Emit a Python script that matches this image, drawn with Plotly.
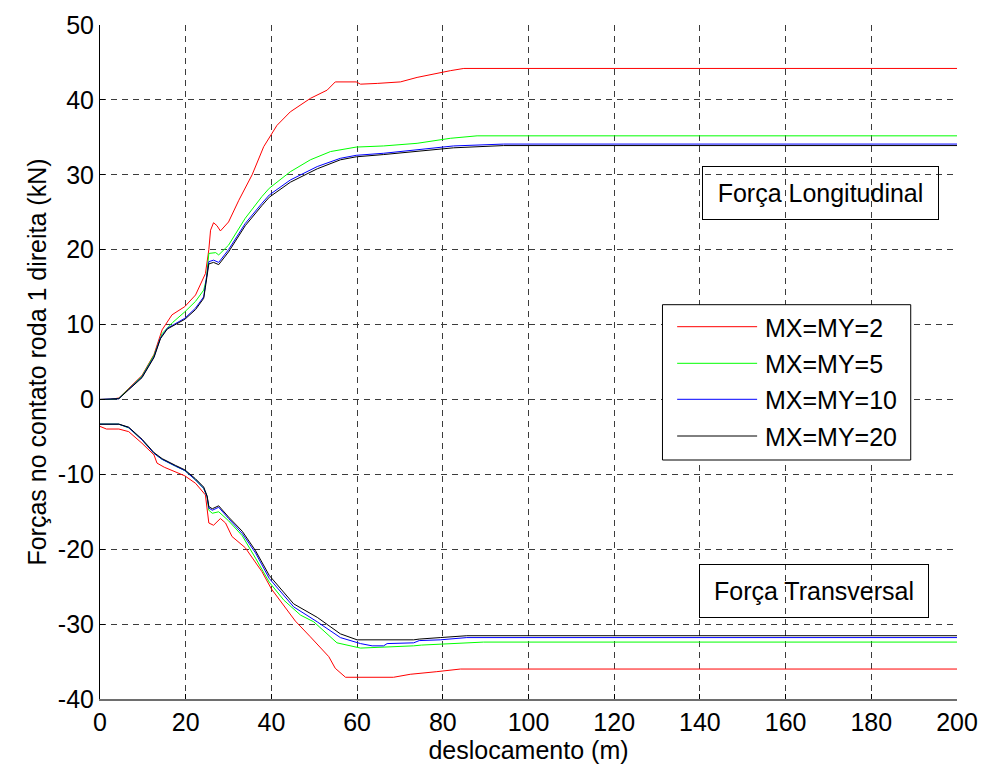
import plotly.graph_objects as go

# ---------------- data ----------------
series_names = ["MX=MY=2", "MX=MY=5", "MX=MY=10", "MX=MY=20"]
series_colors = ["#ff0000", "#00ff00", "#0000ff", "#000000"]

# Longitudinal force
long_x_2 = [0, 2.5, 4.4, 6.7, 9.8, 12.6, 14.5, 16.8, 19.8, 22.3, 24.6, 25.4, 25.8, 26.5, 27.3, 28.1, 30.0,
            32.4, 35.5, 38.2, 41.3, 44.4, 49.1, 53.0, 54.9, 59.8, 60.8, 64.7, 70.1, 74.0, 78.6, 81.75, 84.9, 200]
long_y_2 = [0, 0, 0.2, 1.5, 3.2, 6.0, 9.3, 11.3, 12.4, 13.95, 16.8, 20.0, 22.6, 23.6, 23.2, 22.5, 23.7,
            26.6, 30.0, 33.75, 36.6, 38.4, 40.2, 41.3, 42.4, 42.4, 42.1, 42.2, 42.4, 43.0, 43.55, 43.9, 44.2, 44.2]

long_x_5 = [0, 2.5, 4.4, 6.7, 9.8, 12.6, 14.5, 17.0, 19.8, 22.3, 24.2, 24.8, 25.4, 27.0, 27.7, 30.0, 33.9,
            37.8, 39.5, 44.4, 49.1, 53.8, 59.8, 66.2, 74.0, 81.75, 88.0, 200]
long_y_5 = [0, 0, 0.15, 1.4, 3.1, 5.9, 8.8, 10.3, 11.7, 13.1, 14.6, 16.0, 19.5, 19.6, 19.3, 20.6, 24.2,
            27.1, 28.2, 30.4, 32.0, 33.1, 33.7, 33.85, 34.2, 34.87, 35.2, 35.2]

long_x_10 = [0, 2.5, 4.4, 6.7, 9.8, 12.6, 14.1, 15.7, 19.8, 22.3, 24.2, 24.6, 25.4, 26.5, 27.7, 30.0, 33.9,
             37.8, 39.5, 44.4, 50.7, 56.1, 59.8, 66.2, 74.0, 82.5, 94.2, 200]
long_y_10 = [0, 0, 0.1, 1.35, 3.0, 5.7, 8.2, 9.5, 10.84, 12.2, 13.7, 15.3, 18.4, 18.6, 18.3, 20.0, 23.5,
             26.2, 27.3, 29.3, 31.1, 32.2, 32.6, 32.87, 33.3, 33.85, 34.1, 34.1]

long_x_20 = [0, 2.5, 4.4, 6.7, 9.8, 12.6, 14.1, 15.7, 19.8, 22.3, 24.2, 24.6, 25.4, 26.5, 27.7, 30.0, 33.9,
             37.8, 39.5, 44.4, 50.7, 56.1, 59.8, 66.2, 74.0, 82.5, 94.2, 200]
long_y_20 = [0, 0, 0.1, 1.3, 2.9, 5.6, 8.1, 9.4, 10.7, 12.0, 13.5, 15.0, 18.1, 18.3, 18.0, 19.7, 23.2,
             25.9, 27.0, 29.0, 30.8, 32.0, 32.4, 32.7, 33.1, 33.6, 33.9, 33.9]

# Transverse force
trans_x_2 = [0, 1.5, 4.4, 6.7, 9.8, 12.6, 13.3, 15.0, 19.8, 22.3, 24.6, 25.4, 26.5, 28.1, 29.3, 30.8, 33.9,
             37.8, 40.0, 42.9, 45.6, 49.1, 53.4, 54.9, 57.3, 68.5, 72.4, 78.6, 84.1, 200]
trans_y_2 = [-3.6, -3.95, -3.95, -4.3, -5.85, -7.4, -8.5, -9.05, -10.2, -11.2, -12.75, -16.5, -16.8, -15.9,
             -16.5, -18.3, -19.8, -23.0, -25.3, -27.6, -29.6, -31.7, -34.35, -35.9, -37.1, -37.1, -36.7,
             -36.35, -36.0, -36.0]

trans_x_5 = [0, 4.4, 6.7, 9.8, 12.6, 14.5, 17.6, 19.8, 22.3, 24.2, 25.0, 25.4, 26.2, 27.7, 30.0, 33.2,
             36.3, 39.5, 42.9, 46.8, 49.9, 55.3, 60.8, 66.2, 73.2, 75.0, 89.5, 200]
trans_y_5 = [-3.3, -3.3, -3.8, -5.4, -7.2, -8.0, -8.9, -9.5, -10.75, -11.9, -13.0, -14.8, -15.2, -15.0,
             -16.2, -18.2, -21.2, -24.4, -26.8, -28.8, -29.7, -32.5, -33.2, -33.1, -32.9, -32.8, -32.4, -32.4]

trans_x_10 = [0, 4.4, 6.7, 9.8, 12.6, 14.5, 17.6, 19.8, 22.3, 24.2, 25.0, 25.4, 26.2, 27.7, 30.0, 33.2,
              36.3, 39.5, 45.2, 50.7, 56.1, 60.8, 63.5, 66.2, 67.0, 73.2, 74.5, 79.4, 85.6, 200]
trans_y_10 = [-3.3, -3.3, -3.77, -5.4, -7.2, -8.0, -8.9, -9.5, -10.75, -11.87, -13.0, -14.5, -14.8, -14.4,
              -15.9, -17.9, -20.5, -23.9, -27.7, -29.7, -31.8, -32.6, -32.9, -32.9, -32.6, -32.5, -32.2,
              -32.1, -31.8, -31.8]

trans_x_20 = [0, 4.4, 6.7, 9.8, 12.6, 14.5, 17.6, 19.8, 22.3, 24.2, 25.0, 25.4, 26.2, 27.7, 30.0, 33.2,
              36.3, 39.5, 45.2, 50.7, 56.1, 60.0, 73.2, 74.5, 79.4, 85.6, 200]
trans_y_20 = [-3.3, -3.3, -3.7, -5.3, -7.1, -7.9, -8.8, -9.4, -10.6, -11.7, -12.9, -14.3, -14.6, -14.2,
              -15.7, -17.6, -20.2, -23.5, -27.3, -29.1, -31.3, -32.1, -32.1, -32.0, -31.8, -31.55, -31.55]

x_ticks = [0, 20, 40, 60, 80, 100, 120, 140, 160, 180, 200]
y_ticks = [-40, -30, -20, -10, 0, 10, 20, 30, 40, 50]
x_tick_labels = ["0", "20", "40", "60", "80", "100", "120", "140", "160", "180", "200"]
y_tick_labels = ["-40", "-30", "-20", "-10", "0", "10", "20", "30", "40", "50"]

x_title = "deslocamento (m)"
y_title = "Forças no contato roda 1 direita (kN)"
label_long = "Força Longitudinal"
label_trans = "Força Transversal"

FONT = "Liberation Sans, Arial, sans-serif"
FS = 25

long_x = [long_x_2, long_x_5, long_x_10, long_x_20]
long_y = [long_y_2, long_y_5, long_y_10, long_y_20]
trans_x = [trans_x_2, trans_x_5, trans_x_10, trans_x_20]
trans_y = [trans_y_2, trans_y_5, trans_y_10, trans_y_20]

fig = go.Figure()
for name, color, lx, ly, tx, ty in zip(series_names, series_colors, long_x, long_y, trans_x, trans_y):
    fig.add_trace(go.Scatter(x=lx, y=ly, mode="lines", name=name, legendgroup=name,
                             line=dict(color=color, width=1), showlegend=False))
    fig.add_trace(go.Scatter(x=tx, y=ty, mode="lines", name=name, legendgroup=name,
                             line=dict(color=color, width=1), showlegend=False))

# ---- legend box (drawn in paper coordinates, like the MATLAB legend) ----
L, R, T, B = 99.5, 957.0, 25.0, 699.0
W, H = R - L, B - T
def px(xp):
    return (xp - L) / W
def py(yp):
    return 1 - (yp - T) / H

fig.add_shape(type="rect", xref="paper", yref="paper",
              x0=px(662.3), x1=px(910.7), y0=py(460), y1=py(304.7),
              line=dict(color="black", width=1), fillcolor="white", layer="above")
row_y = [326.7, 363.3, 399.3, 436.0]
for name, color, ry in zip(series_names, series_colors, row_y):
    fig.add_shape(type="line", xref="paper", yref="paper",
                  x0=px(677), x1=px(757), y0=py(ry), y1=py(ry),
                  line=dict(color=color, width=1), layer="above")
    fig.add_annotation(xref="paper", yref="paper", x=px(763), y=py(ry + 1),
                       text=name, showarrow=False, xanchor="left", yanchor="middle",
                       font=dict(family=FONT, size=FS, color="black"))

# ---- text boxes ----
fig.add_annotation(xref="paper", yref="paper", x=px(820), y=py(193.3), text=label_long, showarrow=False,
                   xanchor="center", yanchor="middle",
                   font=dict(family=FONT, size=FS, color="black"),
                   bordercolor="black", borderwidth=1, borderpad=0, width=235, height=52)
fig.add_annotation(xref="paper", yref="paper", x=px(813.8), y=py(591.3), text=label_trans, showarrow=False,
                   xanchor="center", yanchor="middle",
                   font=dict(family=FONT, size=FS, color="black"),
                   bordercolor="black", borderwidth=1, borderpad=0, width=228, height=52)

grid_common = dict(showgrid=True, gridcolor="rgb(60,60,60)", gridwidth=1, griddash="6px,5px",
                   zeroline=False, ticks="inside", ticklen=5, tickcolor="black",
                   tickfont=dict(family=FONT, size=FS, color="black"))

fig.update_layout(
    width=982, height=767,
    margin=dict(l=L, r=982 - R, t=T, b=767 - B),
    paper_bgcolor="white", plot_bgcolor="white",
    font=dict(family=FONT, size=FS, color="black"),
    showlegend=False,
    xaxis=dict(range=[0, 200], tickvals=x_ticks, ticktext=x_tick_labels, showline=True,
               linecolor="rgb(110,110,110)", linewidth=1.5, mirror=False, automargin=False,
               title=dict(text=x_title, font=dict(family=FONT, size=FS), standoff=4),
               **grid_common),
    yaxis=dict(range=[-40, 50], tickvals=y_ticks, ticktext=y_tick_labels, showline=True,
               linecolor="black", linewidth=1, mirror=False, automargin=False,
               title=dict(text=y_title, font=dict(family=FONT, size=FS), standoff=4),
               **grid_common),
)

fig.write_html("out.html")
